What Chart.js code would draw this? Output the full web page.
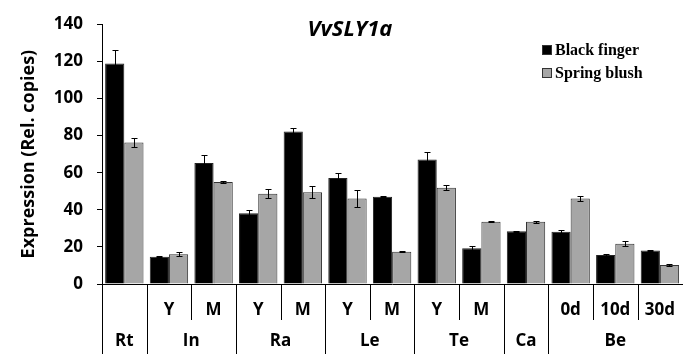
<!DOCTYPE html>
<html>
<head>
<meta charset="utf-8">
<style>
  html, body { margin: 0; padding: 0; background: #fff; }
  #wrap { width: 683px; height: 354px; position: relative; }
</style>
<script src="https://cdn.jsdelivr.net/npm/chart.js@4/dist/chart.umd.min.js"></script>
</head>
<body>
<div id="wrap"><canvas id="c" width="683" height="354"></canvas></div>
<script>
// Sub-category labels (first row under the axis)
const subLabels = ['', 'Y', 'M', 'Y', 'M', 'Y', 'M', 'Y', 'M', '', '0d', '10d', '30d'];
// Tissue groups (second row) and how many sub-categories each spans
const groupLabels = ['Rt', 'In', 'Ra', 'Le', 'Te', 'Ca', 'Be'];
const groupSizes = [1, 2, 2, 2, 2, 1, 3];

const seriesNames = ['Black finger', 'Spring blush'];
const blackFinger = [118.8, 14.7, 65.2, 38.1, 82.2, 57.1, 47.0, 67.1, 19.2, 28.4, 28.2, 15.6, 18.1];
const springBlush = [76.3, 16.0, 54.9, 48.6, 49.4, 46.1, 17.4, 51.9, 33.6, 33.6, 46.1, 21.7, 10.2];
const blackFingerErr = [7.2, 0.3, 4.3, 2.0, 2.0, 2.8, 0.3, 4.0, 1.2, 0.3, 1.1, 0.3, 0.3];
const springBlushErr = [2.6, 1.0, 0.4, 2.5, 3.2, 4.5, 0.4, 1.3, 0.4, 0.6, 1.4, 1.3, 0.4];

const yTicks = [0, 20, 40, 60, 80, 100, 120, 140];
const chartTitle = 'VvSLY1a';
const yTitle = 'Expression (Rel. copies)';

const labelFont = '"Open Sans", sans-serif';

// Error bars, category separators, group labels, title and legend
const decor = {
  id: 'decor',
  afterDatasetsDraw(chart) {
    const ctx = chart.ctx;
    const y = chart.scales.y;
    const errs = [blackFingerErr, springBlushErr];
    const vals = [blackFinger, springBlush];
    ctx.save();
    ctx.strokeStyle = '#000';
    ctx.lineWidth = 1;
    chart.data.datasets.forEach((ds, di) => {
      const meta = chart.getDatasetMeta(di);
      meta.data.forEach((bar, i) => {
        const x = Math.round(bar.x) + 0.5;
        const top = Math.round(y.getPixelForValue(vals[di][i] + errs[di][i])) + 0.5;
        const bot = Math.round(y.getPixelForValue(vals[di][i] - errs[di][i])) + 0.5;
        ctx.beginPath();
        ctx.moveTo(x, top); ctx.lineTo(x, bot);
        ctx.moveTo(x - 3, top); ctx.lineTo(x + 3, top);
        ctx.moveTo(x - 3, bot); ctx.lineTo(x + 3, bot);
        ctx.stroke();
      });
    });
    ctx.restore();
  },
  afterDraw(chart) {
    const ctx = chart.ctx;
    const area = chart.chartArea;
    const n = subLabels.length;
    const w = (area.right - area.left) / n;
    const H = chart.height;
    ctx.save();
    ctx.strokeStyle = '#000';
    ctx.lineWidth = 1;
    // separators: full height between groups, short within a group
    let idx = 0;
    const full = [0];
    groupSizes.forEach(s => { idx += s; full.push(idx); });
    for (let i = 0; i < n; i++) {
      const xp = Math.round(area.left + i * w) + 0.5;
      ctx.beginPath();
      ctx.moveTo(xp, area.bottom);
      ctx.lineTo(xp, full.includes(i) ? H : area.bottom + 36);
      ctx.stroke();
    }
    // group labels
    ctx.fillStyle = '#000';
    ctx.font = 'bold 17px ' + labelFont;
    ctx.textAlign = 'center';
    ctx.textBaseline = 'middle';
    let start = 0;
    groupLabels.forEach((g, gi) => {
      const cx = area.left + (start + groupSizes[gi] / 2) * w;
      ctx.fillText(g, cx, 341);
      start += groupSizes[gi];
    });
    // title
    ctx.font = 'italic bold 22px ' + labelFont;
    ctx.fillText(chartTitle, 350, 30);
    // legend
    ctx.textAlign = 'left';
    ctx.font = 'bold 16px "Liberation Serif", serif';
    chart.data.datasets.forEach((ds, di) => {
      const ly = 50 + di * 23;
      ctx.fillStyle = ds.backgroundColor;
      ctx.fillRect(542, ly - 5, 10, 10);
      ctx.strokeStyle = '#333';
      ctx.strokeRect(542.5, ly - 4.5, 9, 9);
      ctx.fillStyle = '#000';
      ctx.fillText(ds.label, 555, ly + 1);
    });
    ctx.restore();
  }
};

new Chart(document.getElementById('c'), {
  type: 'bar',
  data: {
    labels: subLabels,
    datasets: [
      { label: seriesNames[0], data: blackFinger, backgroundColor: '#000000', borderColor: '#222', borderWidth: 1 },
      { label: seriesNames[1], data: springBlush, backgroundColor: '#a6a6a6', borderColor: '#333', borderWidth: 1 }
    ]
  },
  options: {
    responsive: false,
    animation: false,
    events: [],
    layout: { padding: { top: 24, right: 0, left: 0, bottom: 0 } },
    datasets: { bar: { categoryPercentage: 0.86, barPercentage: 1.0 } },
    plugins: { legend: { display: false }, title: { display: false }, tooltip: { enabled: false } },
    scales: {
      x: {
        grid: { display: false },
        border: { display: true, color: '#000', width: 1 },
        ticks: { color: '#000', font: { family: labelFont, size: 17, weight: 'bold' }, padding: 8, maxRotation: 0, autoSkip: false },
        afterFit(s) { s.height = 70; }
      },
      y: {
        min: 0, max: 140,
        afterBuildTicks(s) { s.ticks = yTicks.map(v => ({ value: v })); },
        grid: { display: true, drawOnChartArea: false, drawTicks: true, tickLength: 5, color: '#000' },
        border: { display: true, color: '#000', width: 1 },
        ticks: { color: '#000', font: { family: labelFont, size: 17, weight: 'bold' }, padding: 14 },
        title: { display: true, text: yTitle, color: '#000', font: { family: labelFont, size: 18, weight: 'bold' }, padding: { top: 18, bottom: 0 } },
        afterFit(s) { s.width = 102; }
      }
    }
  },
  plugins: [decor]
});
</script>
</body>
</html>
